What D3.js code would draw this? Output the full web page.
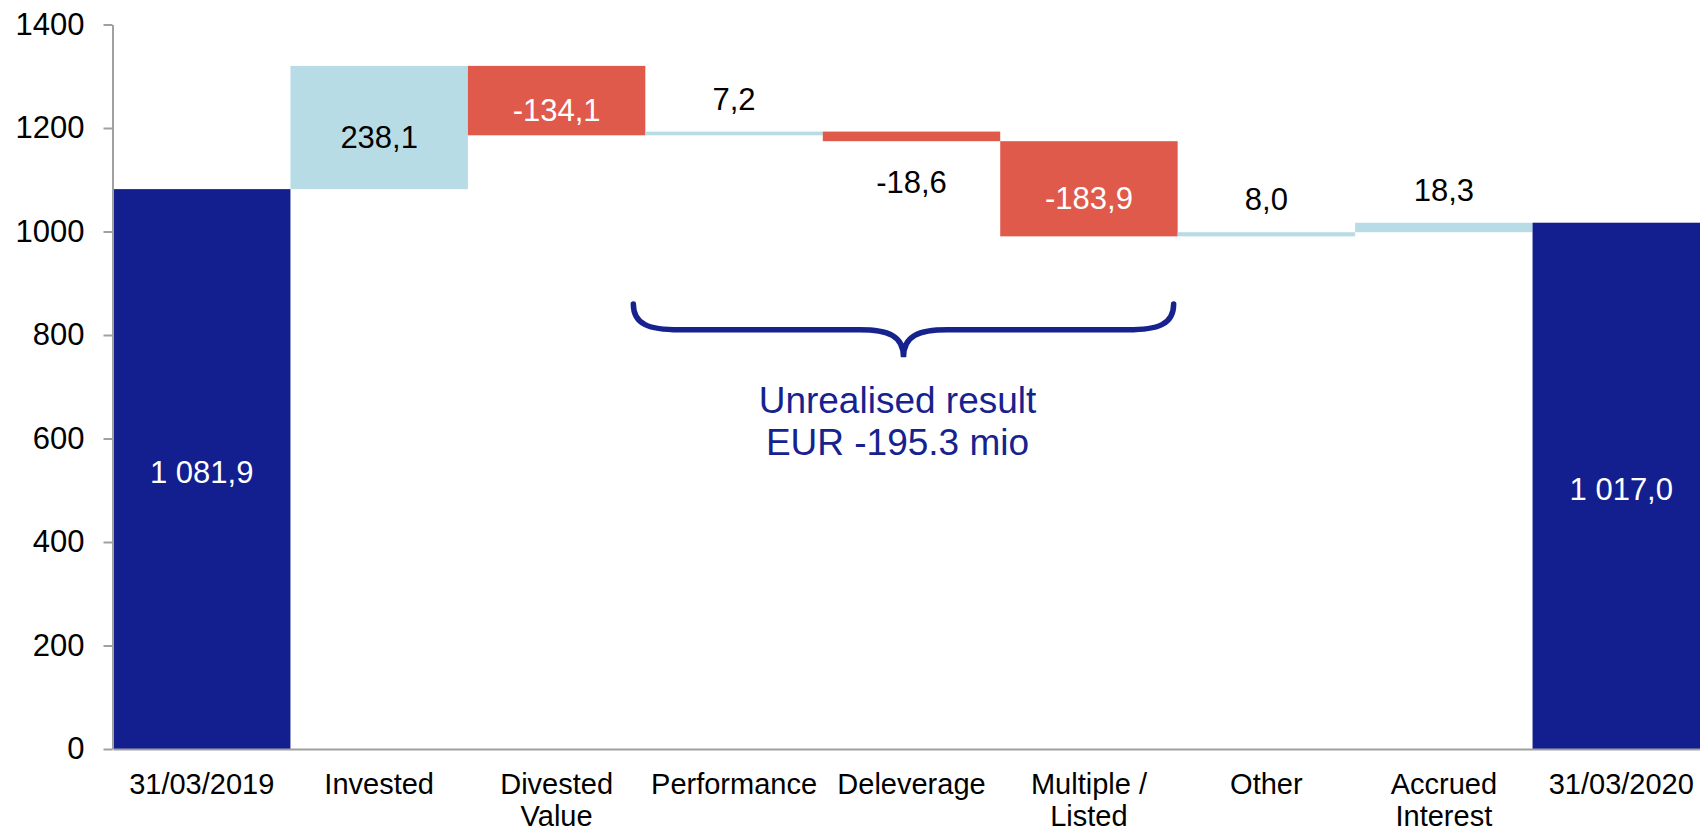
<!DOCTYPE html>
<html>
<head>
<meta charset="utf-8">
<script src="https://cdn.jsdelivr.net/npm/d3@7"></script>
<style>
  html, body { margin: 0; padding: 0; background: #fff; }
  svg { display: block; font-family: "Liberation Sans", Arial, sans-serif; }
</style>
</head>
<body>
<div id="chart"></div>
<script>
// waterfall data
var categories = ["31/03/2019", "Invested", "Divested\nValue", "Performance", "Deleverage",
                  "Multiple /\nListed", "Other", "Accrued\nInterest", "31/03/2020"];
var values = [1081.9, 238.1, -134.1, 7.2, -18.6, -183.9, 8.0, 18.3, 1017.0];
var kinds = ["total", "delta", "delta", "delta", "delta", "delta", "delta", "delta", "total"];
var labelPlace = ["inside", "inside", "inside", "above", "below", "inside", "above", "above", "inside"];
var yTicks = [0, 200, 400, 600, 800, 1000, 1200, 1400];
var noteLines = ["Unrealised result", "EUR -195.3 mio"];
var braceFrom = "Performance";
var braceTo = "Multiple /\nListed";

var W = 1700, H = 831;
var colors = {total: "#131f8f", up: "#b8dce5", down: "#e05a4b", axis: "#a0a0a0", note: "#16238f"};

var locale = d3.formatLocale({decimal: ",", thousands: " ", grouping: [3], currency: ["", ""], minus: "-"});
var fmt = locale.format(",.1f");

// build waterfall segments
var run = 0;
var bars = categories.map(function(c, i) {
    var d = {cat: c, value: values[i], kind: kinds[i], place: labelPlace[i]};
    if (d.kind == "total") {
        d.y0 = 0; d.y1 = d.value; run = d.value;
    } else {
        d.y0 = run; d.y1 = run + d.value; run = d.y1;
    }
    return d;
});

var x = d3.scaleBand()
    .domain(categories)
    .range([113, 1710])
    .padding(0);

var y = d3.scaleLinear()
    .domain([0, 1400])
    .range([749, 24.5]);

var svg = d3.select("#chart")
    .append("svg")
    .attr("width", W)
    .attr("height", H);

function fillOf(d) {
    if (d.kind == "total") return colors.total;
    return d.value >= 0 ? colors.up : colors.down;
}

svg.append("g")
    .selectAll("rect")
    .data(bars)
    .enter().append("rect")
    .attr("x", d => x(d.cat))
    .attr("width", x.bandwidth())
    .attr("y", d => y(Math.max(d.y0, d.y1)))
    .attr("height", d => Math.max(1, Math.abs(y(d.y0) - y(d.y1))))
    .attr("fill", fillOf);

// y axis
var yAxis = svg.append("g")
    .attr("transform", "translate(112.5,0)")
    .call(d3.axisLeft(y).tickValues(yTicks).tickFormat(d3.format("d"))
        .tickSize(9).tickPadding(19).tickSizeOuter(0));
yAxis.select(".domain").attr("stroke", colors.axis).attr("stroke-width", 2);
yAxis.selectAll(".tick line").attr("stroke", colors.axis).attr("stroke-width", 2);
yAxis.selectAll(".tick text")
    .attr("fill", "#000")
    .style("font-size", "31px")
    .style("font-family", "'Liberation Sans', Arial, sans-serif");

// x axis
var xAxis = svg.append("g")
    .attr("transform", "translate(0," + y(0) + ")")
    .call(d3.axisBottom(x).tickSize(0).tickSizeOuter(0).tickFormat(""));
xAxis.select(".domain").attr("stroke", colors.axis).attr("stroke-width", 2);

svg.append("g")
    .selectAll("text")
    .data(categories)
    .enter().append("text")
    .attr("text-anchor", "middle")
    .attr("fill", "#000")
    .style("font-size", "29px")
    .each(function(c) {
        var t = d3.select(this);
        c.split("\n").forEach(function(line, i) {
            t.append("tspan")
                .attr("x", x(c) + x.bandwidth() / 2)
                .attr("y", y(0) + 45 + i * 32)
                .text(line);
        });
    });

// value labels
svg.append("g")
    .selectAll("text")
    .data(bars)
    .enter().append("text")
    .attr("text-anchor", "middle")
    .style("font-size", "31px")
    .attr("x", d => x(d.cat) + x.bandwidth() / 2)
    .attr("y", function(d) {
        var top = y(Math.max(d.y0, d.y1)), bot = y(Math.min(d.y0, d.y1));
        if (d.place == "above") return top - 22;
        if (d.place == "below") return bot + 52;
        return (top + bot) / 2 + (d.kind == "delta" ? 20 : 14);
    })
    .attr("fill", function(d) {
        if (d.place != "inside") return "#000";
        return (d.kind == "delta" && d.value >= 0) ? "#000" : "#fff";
    })
    .text(d => fmt(d.value));

// brace over the unrealised items
var bx0 = x(braceFrom) - 12;
var bx1 = x(braceTo) + x.bandwidth() - 4;
var bxm = (bx0 + bx1) / 2;
var yTop = y(860), yMid = y(810), yTip = y(757);
var r1 = 46, r2 = 44;
var bracePath = [
    "M", bx0, yTop,
    "C", bx0, yTop + (yMid - yTop) * 0.8, bx0 + r1 * 0.35, yMid, bx0 + r1, yMid,
    "L", bxm - r2, yMid,
    "C", bxm - r2 * 0.35, yMid, bxm, yMid + (yTip - yMid) * 0.2, bxm, yTip,
    "C", bxm, yMid + (yTip - yMid) * 0.2, bxm + r2 * 0.35, yMid, bxm + r2, yMid,
    "L", bx1 - r1, yMid,
    "C", bx1 - r1 * 0.35, yMid, bx1, yTop + (yMid - yTop) * 0.8, bx1, yTop
].join(" ");
svg.append("path")
    .attr("d", bracePath)
    .attr("fill", "none")
    .attr("stroke", colors.note)
    .attr("stroke-width", 5.5)
    .attr("stroke-linecap", "round");

svg.append("g")
    .selectAll("text")
    .data(noteLines)
    .enter().append("text")
    .attr("text-anchor", "middle")
    .attr("x", bxm - 6)
    .attr("y", (d, i) => 413 + i * 42)
    .attr("fill", colors.note)
    .style("font-size", "37px")
    .text(d => d);
</script>
</body>
</html>
